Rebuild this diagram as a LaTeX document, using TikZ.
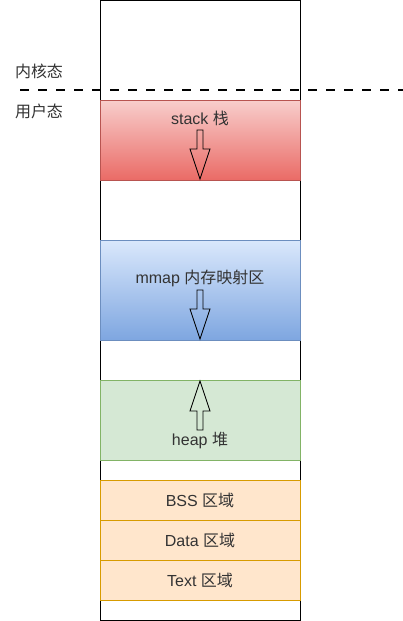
\documentclass[tikz,border=0pt]{standalone}
\usepackage{fontspec}
\setmainfont{Liberation Sans}
\newfontfamily\cjk{Noto Sans CJK SC}
\usetikzlibrary{positioning}

\definecolor{stackTop}{HTML}{F8CECC}
\definecolor{stackBot}{HTML}{EA6B66}
\definecolor{stackLine}{HTML}{B85450}
\definecolor{mmapTop}{HTML}{DAE8FC}
\definecolor{mmapBot}{HTML}{7EA6E0}
\definecolor{mmapLine}{HTML}{6C8EBF}
\definecolor{heapFill}{HTML}{D5E8D4}
\definecolor{heapLine}{HTML}{82B366}
\definecolor{segFill}{HTML}{FFE6CC}
\definecolor{segLine}{HTML}{D79B00}
\definecolor{txt}{HTML}{333333}

\tikzset{
  region/.style={minimum width=200pt,inner sep=0pt,outer sep=0pt},
  txtlabel/.style={inner sep=0pt,text=txt,font=\fontsize{16}{19}\selectfont},
  growarrow/.style={draw=black,line width=0.9pt,line join=miter}
}

% hollow block arrow: shaft start y, head start y, tip y
\newcommand{\blockarrow}[3]{%
  \draw[growarrow] (197,#1) -- (203,#1) -- (203,#2) -- (210,#2) -- (200,#3)
    -- (190,#2) -- (197,#2) -- cycle;}

\begin{document}
\begin{tikzpicture}[x=1pt,y=-1pt]
\useasboundingbox (0,0) rectangle (403,621);

% --- whole address space ---
\node[region,draw=black,minimum height=620pt,line width=0.8pt] (space) at (200,310) {};

% --- kernel / user split ---
\draw[line width=2.2pt,dash pattern=on 8.5pt off 9.5pt] (20,90) -- (403,90);
\node[txtlabel] (kernel) at (39,71) {\cjk 内核态};
\node[txtlabel] (user) at (39,111) {\cjk 用户态};

% --- stack ---
\node[region,minimum height=80pt,top color=stackTop,bottom color=stackBot,
  draw=stackLine,line width=0.8pt] (stack) at (200,140) {};
\node[txtlabel] (stacktxt) at (200,118) {stack {\cjk 栈}};
\blockarrow{130}{149}{179}

% --- mmap ---
\node[region,minimum height=100pt,top color=mmapTop,bottom color=mmapBot,
  draw=mmapLine,line width=0.8pt] (mmap) at (200,290) {};
\node[txtlabel] (mmaptxt) at (200,278) {mmap {\cjk 内存映射区}};
\blockarrow{290}{309}{339}

% --- heap ---
\node[region,minimum height=80pt,fill=heapFill,draw=heapLine,line width=0.8pt]
  (heap) at (200,420) {};
\node[txtlabel] (heaptxt) at (200,440) {heap {\cjk 堆}};
\blockarrow{430}{411}{381}

% --- static segments ---
\node[region,minimum height=40pt,fill=segFill,draw=segLine,line width=0.8pt]
  (bss) at (200,500) {};
\node[region,minimum height=40pt,fill=segFill,draw=segLine,line width=0.8pt,
  below=0pt of bss] (data) {};
\node[region,minimum height=40pt,fill=segFill,draw=segLine,line width=0.8pt,
  below=0pt of data] (text) {};
\node[txtlabel] at (bss) {BSS {\cjk 区域}};
\node[txtlabel] at (data) {Data {\cjk 区域}};
\node[txtlabel] at (text) {Text {\cjk 区域}};

\end{tikzpicture}
\end{document}
